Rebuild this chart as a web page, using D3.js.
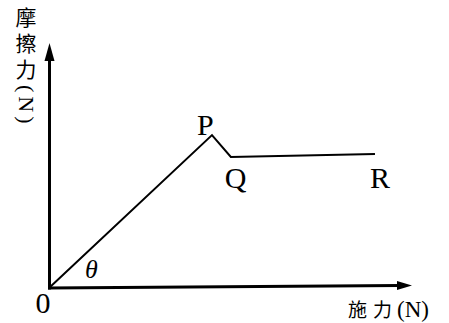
<!DOCTYPE html>
<html>
<head>
<meta charset="utf-8">
<script src="https://cdn.jsdelivr.net/npm/d3@7"></script>
<style>
  html, body { margin: 0; padding: 0; background: #fff; }
  svg { display: block; }
</style>
</head>
<body>
<svg id="chart" width="449" height="323"></svg>
<script>
// ---- data ----
const pointNames = ["O", "P", "Q", "R"];
const forceValues = [0, 44.9, 50.1, 89.8];      // 施力 (x)
const frictionValues = [0, 62.4, 53.5, 54.7];   // 摩擦力 (y)
const labelNames = ["P", "Q", "R"];
const originLabel = "0";
const angleLabel = "θ";
const xAxisTitle = ["施力", "(N)"];
const yAxisTitle = ["摩擦力", "(N)"];
const axisMax = 100;
const xAxisEndLift = 1;

// ---- layout ----
const svg = d3.select("#chart");
const x = d3.scaleLinear().domain([0, axisMax]).range([49, 412]);
const y = d3.scaleLinear().domain([0, axisMax]).range([288, 43]);

const serif = "'Liberation Serif', 'Times New Roman', serif";
const cjk = "'Noto Sans CJK TC', 'Noto Sans CJK SC', sans-serif";

// Y axis line + arrow
svg.append("line")
  .attr("x1", x(0) + 0.5).attr("y1", y(0) + 1.5)
  .attr("x2", x(0) + 0.5).attr("y2", y(axisMax) + 14)
  .attr("stroke", "#000").attr("stroke-width", 3);
svg.append("path")
  .attr("d", `M${x(0)+0.5},${y(axisMax)} L${x(0)-4.5},${y(axisMax)+18} L${x(0)+5.5},${y(axisMax)+18} Z`)
  .attr("fill", "#000");

// X axis line + arrow
const xEndY = y(xAxisEndLift);
svg.append("line")
  .attr("x1", x(0) - 1).attr("y1", y(0))
  .attr("x2", x(axisMax) - 12).attr("y2", xEndY)
  .attr("stroke", "#000").attr("stroke-width", 3);
svg.append("path")
  .attr("d", `M${x(axisMax)},${xEndY} L${x(axisMax)-15},${xEndY-4.5} L${x(axisMax)-15},${xEndY+4.5} Z`)
  .attr("fill", "#000");

// data line O-P-Q-R
const pts = pointNames.map((n, i) => ({ name: n, fx: forceValues[i], fy: frictionValues[i] }));
const line = d3.line().x(d => x(d.fx)).y(d => y(d.fy));
svg.append("path")
  .datum(pts)
  .attr("d", line)
  .attr("fill", "none")
  .attr("stroke", "#000")
  .attr("stroke-width", 2)
  .attr("stroke-linejoin", "miter");

// point labels
const labelOffsets = { P: [-15, 0], Q: [-6, 31], R: [-5, 34] };
svg.selectAll("text.pt")
  .data(pts.filter(d => labelNames.includes(d.name)))
  .join("text")
  .attr("class", "pt")
  .attr("x", d => x(d.fx) + labelOffsets[d.name][0])
  .attr("y", d => y(d.fy) + labelOffsets[d.name][1])
  .attr("font-family", serif)
  .attr("font-size", 30)
  .attr("fill", "#000")
  .text(d => d.name);

// origin label
svg.append("text")
  .attr("x", x(0) - 6).attr("y", y(0) + 25)
  .attr("text-anchor", "middle")
  .attr("font-family", serif).attr("font-size", 30)
  .text(originLabel);

// theta
svg.append("text")
  .attr("x", x(0) + 36).attr("y", y(0) - 10)
  .attr("font-family", serif).attr("font-size", 26)
  .attr("font-style", "italic")
  .text(angleLabel);

// x axis title
const xt = svg.append("text")
  .attr("x", 348).attr("y", 317);
xt.append("tspan")
  .attr("font-family", cjk).attr("font-size", 19)
  .attr("letter-spacing", 6)
  .text(xAxisTitle[0]);
xt.append("tspan")
  .attr("x", 397)
  .attr("font-family", serif).attr("font-size", 23)
  .text(xAxisTitle[1]);

// y axis title (vertical writing)
const yt = svg.append("text")
  .attr("x", 26).attr("y", 7)
  .style("writing-mode", "vertical-rl")
  .style("text-orientation", "mixed");
yt.append("tspan")
  .attr("font-family", cjk).attr("font-size", 21)
  .attr("letter-spacing", 5)
  .text(yAxisTitle[0]);
yt.append("tspan")
  .attr("font-family", serif).attr("font-size", 22)
  .attr("letter-spacing", 4)
  .text(yAxisTitle[1]);
</script>
</body>
</html>
